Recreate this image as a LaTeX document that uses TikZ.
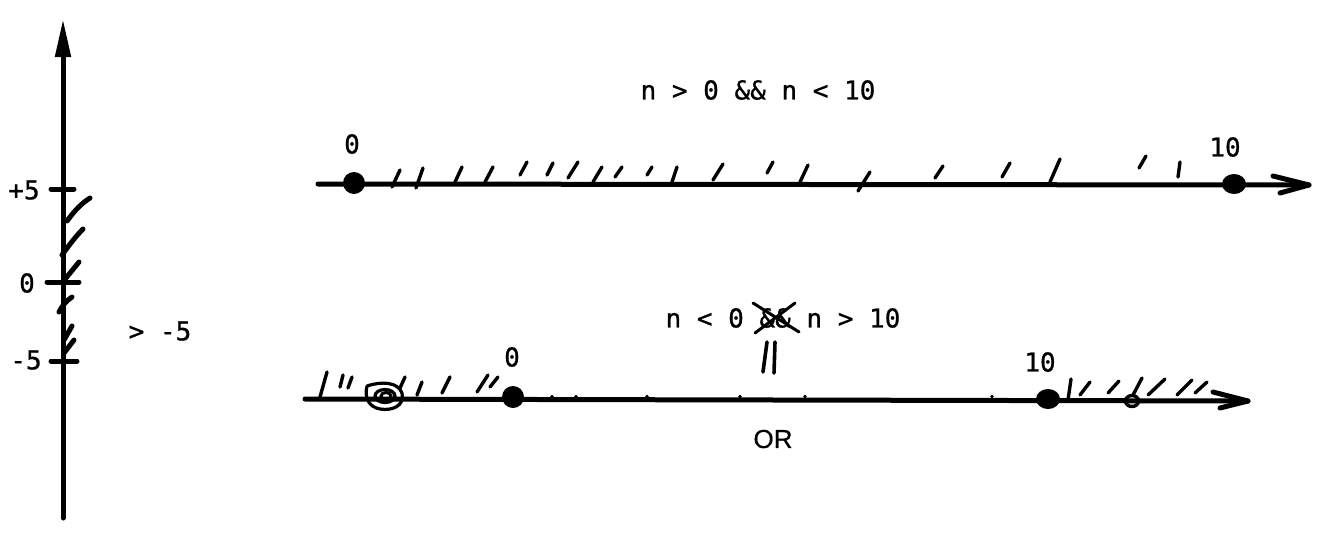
\documentclass[tikz,border=0pt]{standalone}
\usepackage{fontspec}
\newfontfamily\monofnt[FakeBold=0.8]{DejaVu Sans Mono}
\newfontfamily\orfont[FakeBold=0.6]{Liberation Sans}
\usetikzlibrary{arrows.meta}
\begin{document}
\begin{tikzpicture}[x=1pt,y=-1pt,
  axisline/.style={line width=5pt, line cap=round, line join=round},
  thinhatch/.style={line width=3.4pt, line cap=round},
  lefthatch/.style={line width=5pt, line cap=round},
  lbl/.style={font=\fontsize{26}{30}\selectfont\monofnt, inner sep=0pt},
  orlbl/.style={font=\fontsize{26}{30}\selectfont\orfont, inner sep=0pt}]
\useasboundingbox (0,0) rectangle (1330,552);

% ---------- vertical axis ----------
\coordinate (vb) at (63,518);
\coordinate (vt) at (63,19);
\draw[axisline,-{Triangle[length=38pt,width=15pt]}] (vb) -- (vt);
\draw[axisline] (51,189) -- (74,189);
\draw[axisline] (47,282) -- (79,282);
\draw[axisline] (51,361) -- (77,361);
\node[lbl] (p5) at (24,190) {+5};
\node[lbl] (z0) at (27,283) {0};
\node[lbl] (m5) at (26,360) {-5};
\node[lbl] (gt) at (160,331) {> -5};
\draw[lefthatch] (67,221) .. controls (75,210) and (82,203) .. (90,198);
\draw[lefthatch] (62,255) .. controls (70,244) and (76,236) .. (83,229);
\draw[lefthatch] (66,278) -- (79,262);
\draw[lefthatch] (59,312) .. controls (62,306) and (66,301) .. (72,297);
\draw[lefthatch] (64,340) -- (72,326);
\draw[lefthatch] (64,353) -- (74,340);

% ---------- top number line ----------
\node[lbl] (topexpr) at (758,90) {n > 0 \&\& n < 10};
\coordinate (ta) at (318,184);
\coordinate (tb) at (1309,185);
\draw[axisline] (ta) -- (tb);
\draw[axisline] (1273,176) -- (tb) -- (1280,193);
\fill (354,183) circle (11pt);
\fill (1234,184) ellipse (12pt and 10pt);
\node[lbl] (t0) at (352,144) {0};
\node[lbl] (t10) at (1225,147) {10};
\foreach \xa/\ya/\xb/\yb in {
  392/187/400/170, 416/188/423/168, 455/182/462/167, 485/182/493/167,
  520/175/527/162, 547/175/553/163, 568/178/578/162, 593/182/602/167,
  615/177/622/167, 647/175/652/167, 672/182/677/167,
  713/180/723/164, 767/173/773/162, 800/182/808/165, 858/191/870/172,
  935/178/943/166, 1002/177/1010/163, 1050/182/1060/159,
  1139/168/1146/156, 1178/177/1180/162}
  \draw[thinhatch] (\xa,\ya) -- (\xb,\yb);

% ---------- bottom number line ----------
\node[lbl] (botexpr) at (783,318) {n < 0 \&\& n > 10};
\draw[line width=3pt, line cap=round] (753,303) -- (799,332);
\draw[line width=3pt, line cap=round] (755,333) -- (795,303);
\draw[line width=3.6pt, line cap=round] (767,342) -- (763,372);
\draw[line width=3.6pt, line cap=round] (775,342) -- (774,373);
\coordinate (ba) at (305,399);
\coordinate (bb) at (1248,401);
\draw[axisline] (ba) -- (bb);
\draw[axisline] (1213,392) -- (bb) -- (1220,408);
\fill (513,397) circle (11pt);
\fill (1048,399) ellipse (12pt and 10pt);
\node[lbl] (b0) at (512,357) {0};
\node[lbl] (b10) at (1040,362) {10};
\node[orlbl] (or) at (773,439) {OR};
\foreach \xa/\ya/\xb/\yb in {
  320/397/327/372, 340/387/343/375, 348/388/352/377,
  400/388/405/377, 417/395/422/382, 442/393/450/377,
  477/392/488/375, 490/387/498/377,
  1068/400/1071/379, 1080/395/1090/382, 1108/393/1119/381,
  1133/395/1142/378, 1148/395/1165/379, 1177/395/1192/380,
  1195/393/1207/382}
  \draw[thinhatch] (\xa,\ya) -- (\xb,\yb);
% scribble near left end
\draw[line width=3.2pt, line cap=round, line join=round]
  (367,386) .. controls (382,381) and (398,382) .. (402,393)
  .. controls (405,406) and (392,411) .. (380,409)
  .. controls (369,407) and (364,398) .. (367,386);
\draw[line width=3.2pt] (385,396) ellipse (10pt and 6.5pt);
\draw[line width=3pt] (386,396) ellipse (5pt and 3.5pt);
% small loop near right end
\draw[line width=3.4pt] (1132,401) ellipse (6.5pt and 5.5pt);
% small specks on the bottom line
\foreach \x in {552,576,647,740,805,992}
  \fill (\x,396.5) circle (1.8pt);
\end{tikzpicture}
\end{document}
